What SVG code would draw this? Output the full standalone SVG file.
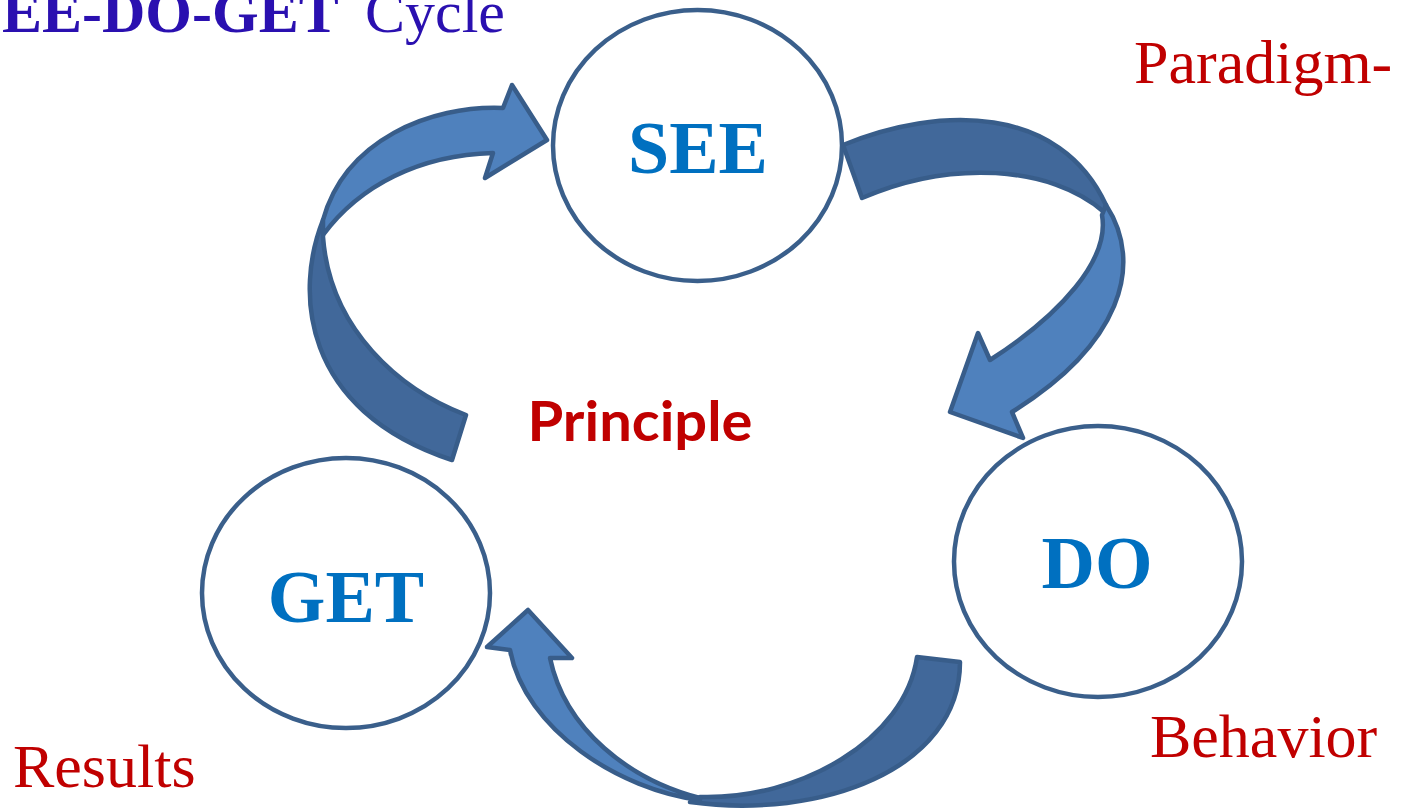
<svg xmlns="http://www.w3.org/2000/svg" width="1401" height="809" viewBox="0 0 1401 809">
<style>
.node{fill:#fff;stroke:#3A5F8B;stroke-width:4.5}
.lbl{font-family:"Liberation Serif","Times New Roman",serif;font-weight:bold;font-size:74px;fill:#0070C0;text-anchor:middle}
.red{font-family:"Liberation Serif","Times New Roman",serif;font-size:62px;fill:#C00000}
.light{fill:#4F81BD;stroke:#385D8A;stroke-width:4.5;stroke-linejoin:round}
.dark{fill:#41689A;stroke:#385D8A;stroke-width:4.5;stroke-linejoin:round}
</style>
<rect width="1401" height="809" fill="#fff"/>
<text y="32" font-family="Liberation Serif,Times New Roman,serif" font-size="60" fill="#2A10B0"><tspan x="2" font-weight="bold">EE-DO-GET</tspan><tspan x="365">Cycle</tspan></text>
<text class="red" x="1134" y="83">Paradigm-</text>
<text class="red" x="1150" y="757">Behavior</text>
<text class="red" x="13" y="787" font-size="61">Results</text>
<text x="640" y="441" font-family="Lato,'Open Sans',sans-serif" font-weight="bold" font-size="56" fill="#C00000" text-anchor="middle" textLength="225" lengthAdjust="spacingAndGlyphs">Principle</text>
<g id="see"><ellipse class="node" cx="697.5" cy="145.5" rx="144.5" ry="135.5"/><text class="lbl" x="698" y="173">SEE</text></g>
<g id="do"><ellipse class="node" cx="1098" cy="561.5" rx="144" ry="135.5"/><text class="lbl" x="1097" y="588">DO</text></g>
<g id="get"><ellipse class="node" cx="346" cy="593" rx="144" ry="135"/><text class="lbl" x="346" y="622">GET</text></g>
<g id="connectors">
<path class="dark" d="M466,415 C400,390 330,330 323,237 L323,220 C295,290 300,410 452,460 Z"/>
<path class="light" d="M323,235 C360,185 420,155 493,153 L485,178 L547,140 L512,85 L503,108 C430,105 345,140 323,220 Z"/>
<path class="dark" d="M843,145 C940,105 1060,105 1106,205 L1104,212 C1050,165 950,160 862,198 Z"/>
<path class="light" d="M1106,205 C1145,265 1120,345 1012,412 L1023,438 L950,412 L978,333 L990,360 C1060,315 1110,260 1102,215 Z"/>
<path class="dark" d="M917,657 L960,662 C960,770 820,820 690,802 L700,797 C800,800 905,740 917,657 Z"/>
<path class="light" d="M700,800 C620,790 525,730 510,650 L487,647 L528,610 L572,658 L550,658 C565,730 630,780 700,798 Z"/>
</g>
</svg>
